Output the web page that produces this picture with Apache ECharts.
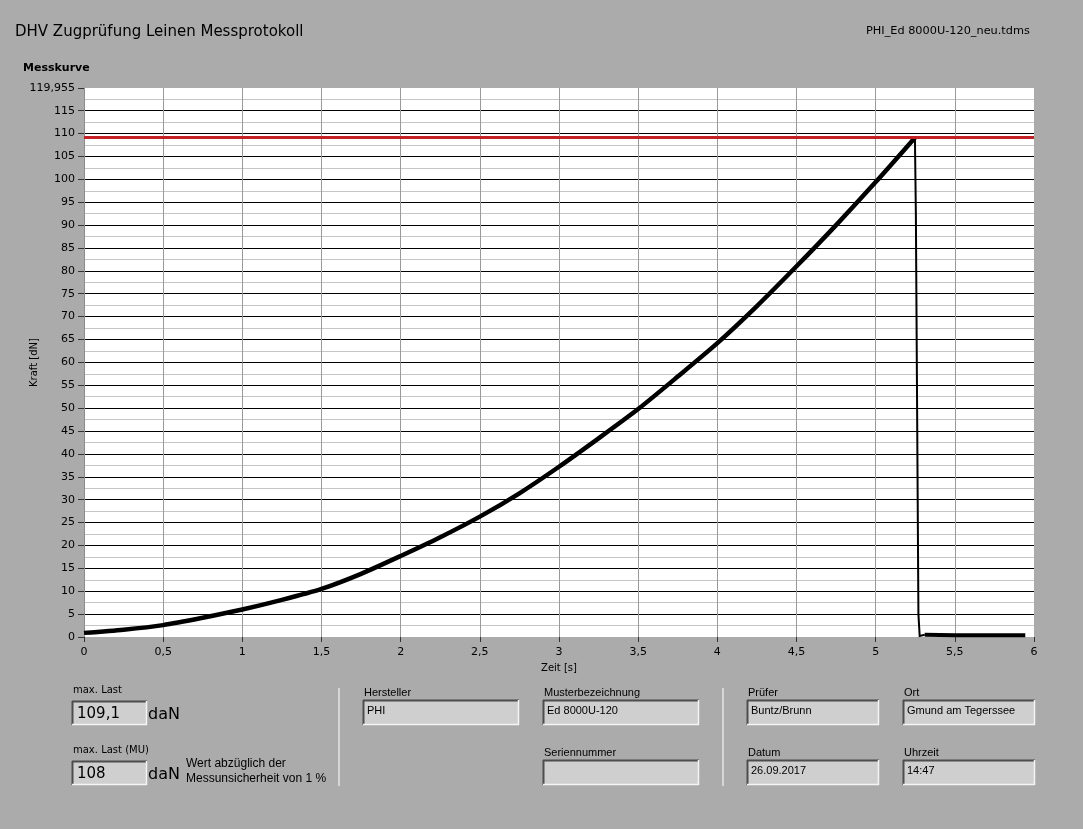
<!DOCTYPE html>
<html>
<head>
<meta charset="utf-8">
<title>DHV Zugprüfung Leinen Messprotokoll</title>
<script src="https://cdn.jsdelivr.net/npm/echarts@6/dist/echarts.min.js"></script>
<style>
  html, body { margin: 0; padding: 0; background: #ababab; }
  #chart { width: 1083px; height: 829px; }
</style>
</head>
<body>
<div id="chart"></div>
<script>
// Messkurve bis zum Bruch: Zeit [s] gegen Kraft [dN]
const zeitAnstieg = [0, 0.25, 0.5, 0.75, 1.0, 1.25, 1.5, 1.75, 2.0, 2.25, 2.5, 2.75, 3.0, 3.25, 3.5, 3.75,
                     4.0, 4.25, 4.5, 4.75, 5.0, 5.248];
const kraftAnstieg = [0.9, 1.6, 2.6, 4.2, 6.0, 8.1, 10.5, 13.8, 17.7, 21.8, 26.3, 31.4, 37.2, 43.4, 49.8, 56.9,
                      64.2, 72.3, 81.0, 90.0, 99.4, 109.1];
// Bruch
const zeitBruch = [5.248, 5.254, 5.27, 5.278, 5.31];
const kraftBruch = [109.1, 92, 5, 0.2, 0.5];
// Nachlauf nach dem Bruch
const zeitNachlauf = [5.31, 5.5, 5.7, 5.945];
const kraftNachlauf = [0.5, 0.4, 0.4, 0.4];

// Kennwerte
const maxLast = 109.1;
const maxLastMU = 108;
const yMax = 119.955;

// Prüfprotokoll-Felder
const fieldLabels = ['Hersteller', 'Musterbezeichnung', 'Seriennummer', 'Prüfer', 'Ort', 'Datum', 'Uhrzeit'];
const fieldValues = ['PHI', 'Ed 8000U-120', '', 'Buntz/Brunn', 'Gmund am Tegerssee', '26.09.2017', '14:47'];

const deNum = v => String(v).replace('.', ',');
const pairs = (xs, ys) => xs.map((t, i) => [t, ys[i]]);

// sunken LabVIEW-style indicator box
function box(x, y, w, h) {
  return [
    { type: 'rect', shape: { x: x, y: y, width: w, height: h }, style: { fill: '#cfcfcf' } },
    { type: 'line', shape: { x1: x, y1: y + 0.5, x2: x + w, y2: y + 0.5 }, style: { stroke: '#4d4d4d', lineWidth: 2 } },
    { type: 'line', shape: { x1: x + 0.5, y1: y, x2: x + 0.5, y2: y + h }, style: { stroke: '#4d4d4d', lineWidth: 2 } },
    { type: 'line', shape: { x1: x, y1: y + h - 0.5, x2: x + w, y2: y + h - 0.5 }, style: { stroke: '#f4f4f4', lineWidth: 1.5 } },
    { type: 'line', shape: { x1: x + w - 0.5, y1: y, x2: x + w - 0.5, y2: y + h }, style: { stroke: '#f4f4f4', lineWidth: 1.5 } }
  ];
}

function txt(x, y, s, font, valign) {
  return { type: 'text', x: x, y: y,
           style: { text: s, font: font, fill: '#000', verticalAlign: valign || 'middle', align: 'left' } };
}

const smallFont = '11px "Liberation Sans", sans-serif';
const graphics = [];

// header
graphics.push(txt(15, 32, 'DHV Zugprüfung Leinen Messprotokoll', '15px "DejaVu Sans", sans-serif'));
graphics.push(txt(866, 31, 'PHI_Ed 8000U-120_neu.tdms', '11.3px "DejaVu Sans", sans-serif'));
graphics.push(txt(23, 68, 'Messkurve', 'bold 11px "DejaVu Sans", sans-serif'));

// max. Last
graphics.push(txt(73, 690, 'max. Last', '10px "DejaVu Sans", sans-serif'));
graphics.push(...box(72, 701, 75, 24));
graphics.push(txt(77, 714, deNum(maxLast), '15px "DejaVu Sans", sans-serif'));
graphics.push(txt(148, 715, 'daN', '16px "DejaVu Sans", sans-serif'));

graphics.push(txt(73, 750, 'max. Last (MU)', '10px "DejaVu Sans", sans-serif'));
graphics.push(...box(72, 761, 75, 24));
graphics.push(txt(77, 774, deNum(maxLastMU), '15px "DejaVu Sans", sans-serif'));
graphics.push(txt(148, 775, 'daN', '16px "DejaVu Sans", sans-serif'));
graphics.push(txt(186, 764, 'Wert abzüglich der', '12px "Liberation Sans", sans-serif'));
graphics.push(txt(186, 779, 'Messunsicherheit von 1 %', '12px "Liberation Sans", sans-serif'));

// separators
[339, 723].forEach(x => {
  graphics.push({ type: 'line', shape: { x1: x, y1: 688, x2: x, y2: 786 }, style: { stroke: '#d6d6d6', lineWidth: 2 } });
});

// text fields: x, y, width of each box
const fieldPos = [[363, 700, 156], [543, 700, 156], [543, 760, 156], [747, 700, 132], [903, 700, 132], [747, 760, 132], [903, 760, 132]];
fieldLabels.forEach((lab, i) => {
  const p = fieldPos[i];
  graphics.push(txt(p[0] + 1, p[1] - 7, lab, smallFont));
  graphics.push(...box(p[0], p[1], p[2], 25));
  if (fieldValues[i]) graphics.push(txt(p[0] + 4, p[1] + 11, fieldValues[i], smallFont));
});

const chart = echarts.init(document.getElementById('chart'), null, { renderer: 'canvas' });
chart.setOption({
  animation: false,
  backgroundColor: '#ababab',
  grid: {
    left: 84, top: 88, width: 950, height: 549,
    show: true, backgroundColor: '#ffffff', borderWidth: 0
  },
  xAxis: {
    type: 'value', min: 0, max: 6, interval: 0.5,
    name: 'Zeit [s]', nameLocation: 'middle', nameGap: 26,
    nameTextStyle: { color: '#000', fontFamily: 'DejaVu Sans', fontSize: 10 },
    axisLine: { show: false },
    axisTick: { show: true, length: 5, lineStyle: { color: '#333' } },
    axisLabel: { color: '#000', fontFamily: 'DejaVu Sans', fontSize: 11, margin: 10, formatter: v => deNum(v) },
    splitLine: { show: true, showMaxLine: false, lineStyle: { color: '#9a9a9a', width: 1 } }
  },
  yAxis: {
    type: 'value', min: 0, max: yMax, interval: 5,
    name: 'Kraft [dN]', nameLocation: 'middle', nameGap: 45, nameRotate: 90, nameMoveOverlap: false,
    nameTextStyle: { color: '#000', fontFamily: 'DejaVu Sans', fontSize: 10 },
    axisLine: { show: true, lineStyle: { color: '#8c8c8c', width: 1 } },
    axisTick: { show: true, length: 6, lineStyle: { color: '#333' } },
    axisLabel: { color: '#000', fontFamily: 'DejaVu Sans', fontSize: 11, margin: 9, formatter: v => deNum(v) },
    splitLine: { show: true, showMinLine: false, showMaxLine: false, lineStyle: { color: '#000', width: 1 } },
    minorTick: { show: false, splitNumber: 2 },
    minorSplitLine: { show: true, lineStyle: { color: '#c6c6c6', width: 1 } }
  },
  series: [{
    type: 'line',
    data: pairs(zeitAnstieg, kraftAnstieg),
    showSymbol: false,
    smooth: 0.25,
    lineStyle: { color: '#000', width: 4.5, join: 'round' },
    markLine: {
      silent: true, symbol: 'none', label: { show: false },
      lineStyle: { color: '#c42127', width: 3, type: 'solid' },
      data: [{ yAxis: maxLast }]
    },
    z: 3
  }, {
    type: 'line',
    data: pairs(zeitBruch, kraftBruch),
    showSymbol: false,
    lineStyle: { color: '#000', width: 2, join: 'miter' },
    z: 3
  }, {
    type: 'line',
    data: pairs(zeitNachlauf, kraftNachlauf),
    showSymbol: false,
    lineStyle: { color: '#000', width: 4 },
    z: 3
  }],
  graphic: graphics
});
</script>
</body>
</html>
